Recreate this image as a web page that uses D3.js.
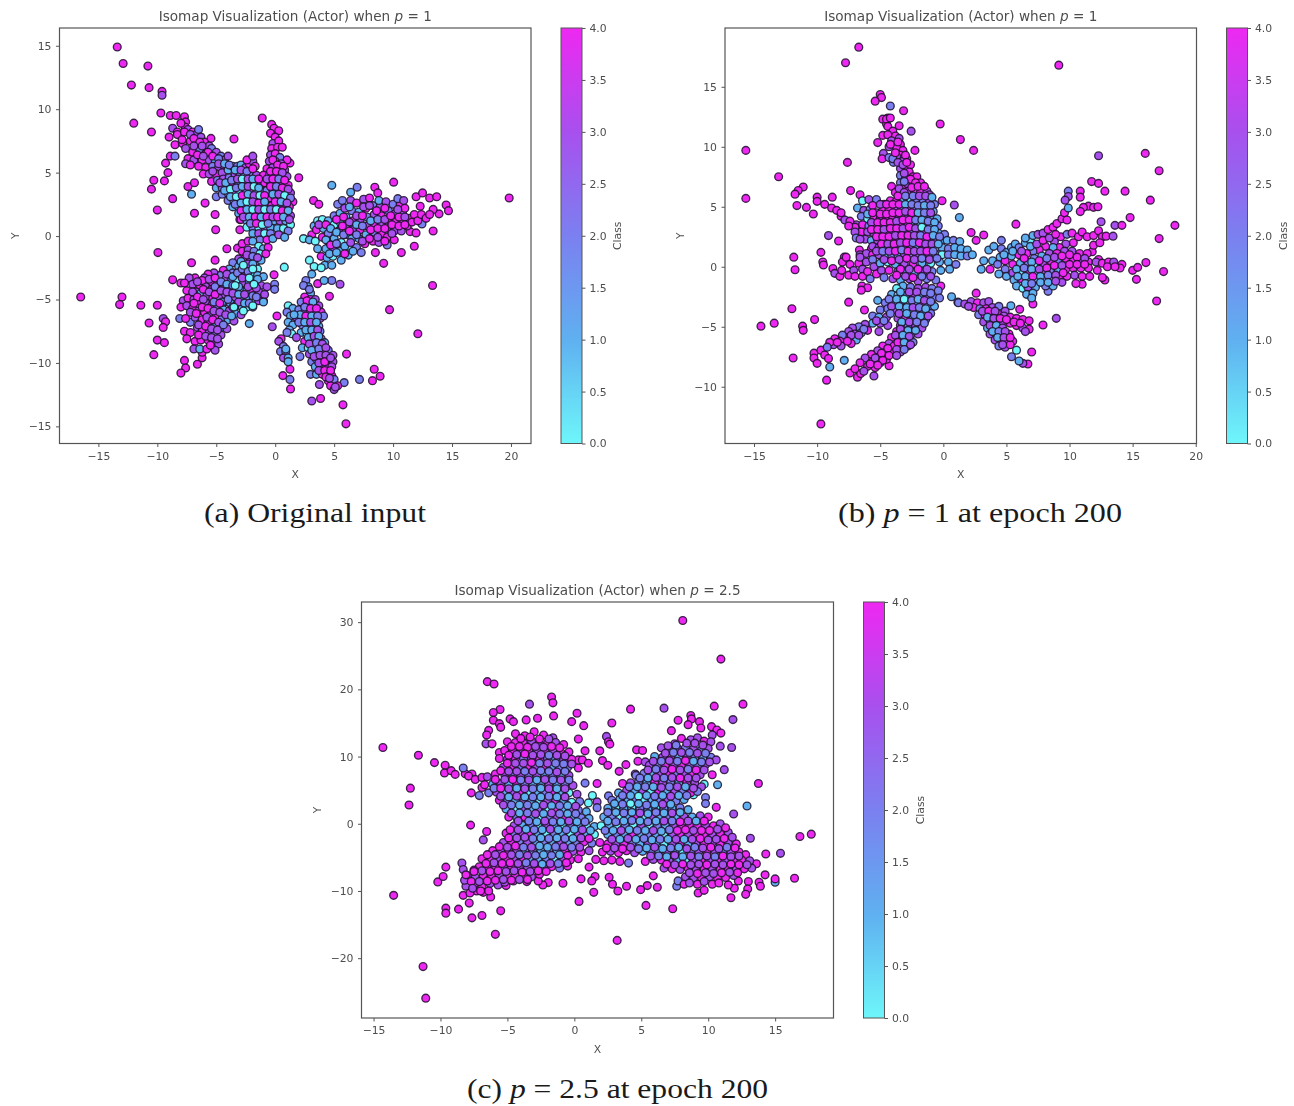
<!DOCTYPE html>
<html>
<head>
<meta charset="utf-8">
<script src="https://cdn.jsdelivr.net/npm/d3@7"></script>
<style>
body{margin:0;background:#fff}
text{font-family:"DejaVu Sans",sans-serif;fill:#4d4d4d}
.caption{font-family:"Liberation Serif",serif;fill:#1a1a1a}
.axis path,.axis line{stroke:#555}
</style>
</head>
<body>
<div id="chart"></div>
<script>
// every point is [x, y, class]
var aOut=[[-13.4,14.9,4],[-12.9,13.6,4],[-10.8,13.4,4],[-12.2,11.9,4],[-10.7,11.7,4],[-9.6,11.4,4],[-9.6,11.1,3],[-9.7,9.7,4],[-12,8.9,4],[-10.5,8.2,4],[-8.9,9.5,4],[-8.4,9.5,4],[-7.7,9.4,4],[-7.6,9,4],[-7.65,8.6,4],[-8.7,8.5,3],[-8.3,8.2,4],[-9,7.8,4],[-8.3,8,4],[-8.5,7.2,4],[-7.85,7.3,4],[-8.9,6.3,4],[-8.5,6.3,2],[-9.3,5.75,4],[-9.1,5,4],[-9.4,4.35,4],[-10.3,4.4,4],[-10.5,3.7,4],[-8.7,2.95,4],[-10,2.05,4],[-6.85,1.8,4],[-5.1,1.7,4],[-5.95,2.6,4],[-5.05,0.5,4],[-3,0.5,4],[-3,1.3,4],[-7.4,3.9,4],[-6.85,4.2,4],[-7.1,3.3,1],[-5,3.1,2],[-3.5,7.65,4],[-5.45,7.7,4],[-1.1,9.3,4],
[19.85,3,4],[10.05,4.25,4],[4.8,4,1],[6.95,3.85,2],[6.4,3.45,1],[8.45,3.85,4],[8.7,3.4,4],[3.25,2.8,4],[3.7,2.5,4],[2,4.6,4],[1.25,5.75,4],[11.95,3.1,4],[12.5,3.4,4],[13.1,3,4],[13.7,3.1,4],[14.5,2.45,4],[14.7,2,4],[13.9,1.75,4],[13.4,2.1,4],[13.4,0.4,4],[11.8,-0.8,4],[12.3,2.35,4],[12.45,0.95,2],[11.45,0.35,4],[11.95,0.25,4],
[13.35,-3.9,4],[9.7,-5.8,4],[12.1,-7.7,4],[6.05,-9.3,4],[8.4,-10.5,4],[8.9,-11.05,4],[8.25,-11.4,4],[7.15,-11.3,2],[5.85,-11.55,2],[6,-14.8,4],[5.75,-13.3,4],[3.85,-12.8,4],[3.1,-13,3],[3.75,-11.7,3],[1.3,-12.05,4],[0.65,-11,4],[1.25,-11.3,2],[1.25,-10.5,4],[0.15,-6.3,4],[-0.25,-7.15,3],[-0.1,-3.05,4],[0.77,-2.45,0],[4.6,-4.75,4],[5.5,-3.8,3],[4.8,-3.5,2],[9.2,-2.15,4],[8.5,-1.3,4],[10.7,-1.3,4],[2.9,-1.9,0],[3.3,-2.4,0],[3.1,-3,1],[2.6,-3.5,2],[3.6,-3.75,4],[4.15,-3.5,1],[2.4,-0.2,0],
[-16.5,-4.8,4],[-13,-4.8,4],[-13.2,-5.4,4],[-11.4,-5.45,4],[-10,-5.45,4],[-10.7,-6.85,4],[-9.5,-6.5,3],[-9.3,-6.75,4],[-9.5,-7.2,4],[-10,-8.2,4],[-9.4,-8.4,4],[-10.3,-9.35,4],[-7.7,-9.8,4],[-7.6,-10.4,4],[-8,-10.8,4],[-6.6,-10.1,4],[-6.2,-9.6,4],[-6.2,-9.15,4],[-9.95,-1.3,4],[-7.1,-2.1,4],[-5.1,-1.9,4],[-4.1,-1,4],[-3.2,-0.95,4],[-8.7,-3.45,4],[-8,-3.7,4],[-2.2,-6.9,1],[-0.05,-3.8,2],[-0.05,-4.2,2],[-1,-5.1,1],[-7.7,-7.5,4],[-7.2,-7.6,4],[-7.5,-8.1,4],[-7.2,-6.8,2],[-6.6,-7.2,3]];
var aNW=[[-8,8.9,4],[-7.4,8.4,3],[-7,8.2,4],[-6.7,8,3],[-6.5,8.4,2],[-6.3,7.8,3],[-7.9,7.6,4],[-7.2,7.5,4],[-6.6,7.2,3],[-6,7.4,4],[-5.6,7.1,3],[-7.6,6.9,3],[-7,6.6,4],[-6.4,6.8,2],[-5.9,6.5,4],[-5.4,6.9,2],[-5,6.6,3],[-7.4,6.1,4],[-6.9,6,3],[-6.2,6,4],[-5.6,6,3],[-5.1,6,1],[-4.6,6.3,2],[-4.3,6,3],[-4,6.3,3],[-7.6,5.7,3],[-7.2,5.6,4],[-6.5,5.5,4],[-5.9,5.4,4],[-5.3,5.5,2],[-4.8,5.4,3],[-4.3,5.5,4],[-6.1,4.9,4],[-5.6,4.9,3],[-5,4.9,4],[-4.5,5,3],[-4,5.2,1],[-3.6,5.5,1],[-3.2,5.5,2],[-2.9,5.6,1],[-2.5,5.4,3],[-2.2,5.7,4],[-1.9,5.9,3],[-1.7,5.5,4],[-2.4,6,4],[-1.9,6.3,3],[-5.4,4.3,4],[-4.9,4.4,2],[-4.4,4.5,3],[-3.9,4.6,2],[-3.4,4.8,3],[-3,4.8,2],[-2.6,4.8,1],[-2.1,4.9,2],[-1.6,4.8,3],[-5,3.8,1],[-4.5,3.8,3],[-4,4,2],[-3.6,4.1,4],[-3.1,4.2,1],[-2.6,4.2,4],[-2.1,4.2,2],[-1.7,4.1,1],[-1.2,4.1,3],[-4.5,3.3,2],[-4,3.4,1],[-3.5,3.4,3],[-3,3.5,0],[-2.5,3.6,2],[-2,3.6,4],[-1.6,3.5,0],[-1.1,3.5,2],[-4,2.8,2],[-3.5,2.8,1],[-3,2.9,3],[-2.6,3,1],[-2.1,3,4],[-1.6,2.9,2],[-1.2,2.9,1],[-0.7,3,3],[-3.6,2.3,1],[-3.1,2.3,0],[-2.6,2.4,3],[-2.1,2.4,0],[-1.6,2.3,4],[-1.1,2.4,1],[-0.6,2.4,3],[-3.1,1.8,1],[-2.6,1.8,2],[-2.1,1.8,4],[-1.6,1.8,0],[-1.1,1.8,3],[-0.6,1.8,1],[-2.9,1.3,4],[-2.4,1.2,1],[-1.9,1.2,3],[-1.4,1.2,2],[-0.9,1.2,4],[-0.4,1.3,1],[-2.4,0.7,0],[-1.9,0.7,2],[-1.4,0.7,0],[-0.9,0.7,3],[-0.4,0.7,1],[-1.9,0.2,1],[-1.4,0.2,3],[-0.9,0.2,0],[-0.4,0.2,2],[-1.3,-0.3,2],[-0.7,-0.3,4],[-0.2,-0.2,1]];
var aN=[[-0.3,8.8,4],[-0.1,8.5,4],[0.3,8.3,4],[-0.4,8.1,4],[0,7.8,4],[-0.2,7.3,3],[0.3,7.5,4],[-0.3,6.9,4],[0.2,7,4],[0.6,7,4],[-0.4,6.4,3],[0,6.5,4],[0.4,6.2,2],[1,6,4],[-0.5,5.9,3],[0,5.9,4],[0.5,5.7,3],[-0.7,5.3,4],[-0.2,5.4,3],[0.3,5.3,4],[0.8,5.2,3],[-1,4.8,4],[-0.5,4.8,3],[0,4.8,4],[0.5,4.7,2],[1,4.7,3],[-0.9,4.2,4],[-0.4,4.2,3],[0.1,4.2,4],[0.6,4.2,3],[1.1,4,4],[-0.7,3.6,2],[-0.2,3.6,4],[0.3,3.6,1],[0.8,3.5,2],[1.3,3.4,3],[-0.5,3,4],[0,3,0],[0.5,3,1],[1,2.9,1],[1.5,2.7,4],[-0.3,2.4,4],[0.2,2.4,1],[0.7,2.3,3],[1.2,2.3,4],[-0.1,1.8,2],[0.4,1.8,0],[0.9,1.7,2],[1.3,1.6,3],[-0.1,1.2,1],[0.4,1.2,3],[0.9,1.2,1],[1.3,0.9,0],[0.2,0.6,1],[0.7,0.6,0],[1.1,0.4,2],[0.3,0.1,3],[0.8,-0.1,1]];
var aE=[[3.3,0.8,1],[3.1,0.1,4],[2.9,-0.3,1],[3.6,1.2,0],[4,1.3,0],[3.5,0.5,4],[3.4,-0.4,0],[3.6,-1,1],[3.9,-1.6,4],[4,-0.1,4],[4.1,0.6,1],[4.5,1.2,1],[5,1.6,2],[5,0.9,0],[4.5,0.2,2],[4.5,-0.4,3],[4.3,-1,1],[4.4,-1.7,1],[4.2,-2.3,1],[3.9,-2.5,0],[4.8,-2.3,1],[4.9,-1.6,0],[4.9,-0.9,3],[5,-0.2,1],[5.4,0.4,3],[5.5,1.1,0],[5.5,1.8,1],[5.3,2.5,2],[5.7,2.8,2],[5.9,2.2,3],[6,1.5,1],[6,0.8,3],[6,0.1,1],[5.6,-0.5,0],[5.5,-1.2,1],[5.6,-1.9,1],[6.2,-1.5,1],[6.2,-0.8,0],[6.5,-0.2,1],[6.6,0.5,3],[6.6,1.2,4],[6.5,2,2],[6.4,2.8,3],[6.9,2.6,4],[7.1,1.9,1],[7.2,1.2,3],[7.2,0.5,4],[7.1,-0.2,1],[6.9,-0.9,2],[7.3,-1.3,2],[7.6,-0.6,4],[7.7,0.1,1],[7.8,0.8,3],[7.8,1.5,2],[7.7,2.2,4],[7.5,2.9,3],[8,3,4],[8.3,2.4,2],[8.4,1.7,3],[8.4,1,4],[8.4,0.3,2],[8.3,-0.4,4],[8.8,-0.5,3],[9,0.2,4],[9,0.9,3],[9,1.6,4],[8.9,2.3,3],[8.8,2.8,1],[9.4,2.7,3],[9.6,2,2],[9.6,1.3,4],[9.6,0.6,3],[9.5,-0.1,4],[9.5,-0.7,2],[10.1,-0.3,4],[10.1,0.4,3],[10.2,1.1,4],[10.2,1.8,3],[10,2.5,2],[10.6,2.5,4],[10.8,1.8,3],[10.8,1.1,4],[10.7,0.4,3],[11.2,0.8,4],[11.4,1.4,4],[11,2.2,4],[11.6,1.1,4],[11.8,1.7,4],[12.1,1.2,4],[12.4,1.7,4],[12.8,1.4,4],[13.1,1.7,4],[10.4,2.95,2],[10.9,2.8,3]];
var aSW=[[-2.8,-0.6,4],[-2.3,-0.4,4],[-1.9,-0.4,1],[-1.4,-0.8,0],[-1,-1,1],[-0.6,-0.9,4],[-2.8,-1.2,4],[-2.3,-1.1,3],[-1.8,-1.2,2],[-1.3,-1.4,0],[-0.8,-1.4,4],[-3.1,-1.8,3],[-2.6,-1.8,4],[-2.1,-1.9,3],[-1.6,-2,1],[-1.2,-1.9,1],[-3.6,-2.1,2],[-3.1,-2.4,1],[-2.6,-2.4,3],[-2.1,-2.5,1],[-1.5,-2.6,0],[-3.9,-2.6,1],[-3.6,-2.9,2],[-3,-3,1],[-2.5,-3,3],[-2,-3.1,0],[-1.5,-3.1,1],[-1,-3.2,1],[-4.4,-2.7,4],[-4.7,-3.1,2],[-4.2,-3.4,3],[-3.7,-3.5,2],[-3.2,-3.5,0],[-2.7,-3.7,3],[-2.2,-3.7,1],[-1.7,-3.7,0],[-1.2,-3.9,3],[-0.7,-4,3],[-5.2,-2.9,3],[-5.7,-3,4],[-6,-3.3,3],[-5.4,-3.6,4],[-4.9,-3.7,3],[-4.4,-4,3],[-3.9,-4.1,3],[-3.4,-4.1,2],[-2.9,-4.3,1],[-2.4,-4.3,0],[-1.9,-4.4,4],[-1.4,-4.4,3],[-0.9,-4.6,3],[-6.8,-3.3,4],[-7.3,-3.3,3],[-7.7,-3.7,4],[-7,-3.8,3],[-6.4,-3.9,4],[-5.9,-4,3],[-5.4,-4.2,4],[-4.9,-4.3,3],[-4.4,-4.6,3],[-3.9,-4.7,2],[-3.4,-4.8,3],[-2.9,-4.9,1],[-2.4,-5,1],[-1.9,-5.1,0],[-1.4,-5.1,3],[-1,-5.2,1],[-6.7,-4.4,3],[-6.3,-4.5,1],[-5.8,-4.7,3],[-5.3,-4.9,4],[-4.8,-4.9,3],[-4.3,-5.2,3],[-3.8,-5.3,1],[-3.3,-5.5,3],[-2.8,-5.6,1],[-2.4,-5.6,0],[-1.9,-5.6,1],[-7.8,-5.1,3],[-7.4,-4.9,4],[-6.9,-5,3],[-6.4,-5.1,4],[-5.9,-5.3,3],[-5.4,-5.5,4],[-4.9,-5.6,2],[-4.4,-5.8,1],[-3.9,-5.9,3],[-3.4,-6.1,1],[-2.9,-6.2,3],[-8,-5.6,4],[-7.5,-5.5,3],[-7,-5.7,4],[-6.5,-5.9,3],[-6,-6,4],[-5.5,-6.2,3],[-5,-6.3,4],[-4.5,-6.5,2],[-4,-6.6,1],[-3.5,-6.7,3],[-8.1,-6.5,2],[-7.6,-6.5,4],[-6.8,-6.4,3],[-6.2,-6.6,4],[-5.7,-6.8,4],[-5.1,-7,1],[-4.6,-7.2,1],[-4.1,-7.3,3],[-6.2,-7.5,4],[-5.6,-7.6,3],[-5.1,-7.7,2],[-4.6,-7.8,3],[-6.8,-8.3,4],[-6.3,-8.2,4],[-5.7,-8.2,4],[-5.2,-8.3,3],[-4.8,-8.5,3],[-6.9,-8.9,3],[-6.4,-8.9,1],[-5.8,-8.9,4],[-5.1,-9,3]];
var aS=[[2.8,-4,1],[2.4,-3.9,2],[3,-4.5,1],[2.5,-4.8,4],[3,-5,4],[3.4,-5,3],[2.2,-5.2,2],[2.7,-5.5,4],[3.2,-5.5,4],[3.7,-5.5,3],[1.1,-5.5,0],[1.5,-5.7,1],[2,-5.8,2],[2.5,-6,3],[3,-6,2],[3.5,-6,1],[3.9,-6,4],[1,-6,2],[1.3,-6.3,1],[1.8,-6.4,3],[2.3,-6.5,2],[2.8,-6.5,3],[3.3,-6.6,1],[3.8,-6.5,3],[4.1,-6.3,2],[1.1,-6.8,1],[1.5,-7,1],[2.3,-7,2],[2.8,-7.1,1],[3.2,-7.1,2],[3.7,-7.1,1],[1.2,-7.4,1],[1.4,-7.7,0],[1,-7.6,2],[2.2,-7.6,1],[2.7,-7.7,0],[3.3,-7.6,1],[3.8,-7.5,2],[1.8,-8,3],[2.5,-8.3,4],[3,-8.2,1],[3.4,-8.1,0],[3.9,-8.1,2],[2.3,-8.8,1],[2.8,-8.8,0],[3.3,-8.7,2],[3.8,-8.7,3],[4.2,-8.4,1],[2.9,-9.3,3],[3.5,-9.2,2],[4,-9.1,3],[4.5,-9,2],[4.9,-9.4,3],[2.1,-9.5,2],[3.1,-9.9,2],[3.5,-9.7,1],[4,-9.6,1],[4.5,-9.7,2],[4.9,-9.9,3],[3.4,-10.3,1],[3.9,-10.3,4],[4.3,-10.2,3],[4.8,-10.3,3],[3,-10.9,2],[3.5,-10.9,1],[4,-10.9,4],[4.5,-10.8,3],[4.8,-11,4],[4.5,-11.4,4],[5,-11.3,2],[5.3,-11.8,4],[4.7,-11.8,4],[5,-12.1,3],[5.1,-11.9,3],[0.5,-8.1,4],[0.3,-8.3,3],[0.7,-8.7,2],[0.45,-9.1,2],[0.9,-9.1,2],[0.7,-9.6,3],[1.1,-9.6,1],[1.1,-9.9,1],[0.9,-8.9,1]];
// second pass over the crowded parts of panel a
var aFillNW=[[-7.7,8.2,4],[-7.2,8,3],[-6.9,7.7,4],[-6.4,7.4,4],[-6.9,7.1,3],[-6.2,7.1,3],[-5.7,6.6,4],[-6.6,6.4,4],[-6.1,6.3,3],[-5.3,6.3,4],[-4.8,6.1,2],[-5.3,5.1,3],[-4.8,5.7,3],[-4.3,5.7,1],[-3.9,5.6,2],[-3.4,5.2,1],[-2.9,5.2,3],[-2.4,5.1,2],[-1.9,5.3,4],[-4.7,4.2,3],[-4.2,4.2,1],[-3.7,4.4,2],[-3.2,4.5,3],[-2.8,4.5,0],[-2.3,4.5,3],[-1.9,4.5,1],[-1.4,4.5,4],[-4.3,3.6,1],[-3.8,3.7,0],[-3.3,3.8,2],[-2.8,3.9,1],[-2.3,3.9,3],[-1.8,3.9,0],[-1.4,3.8,1],[-3.8,3.1,1],[-3.3,3.1,0],[-2.8,3.2,4],[-2.3,3.3,1],[-1.8,3.2,3],[-1.3,3.2,0],[-0.9,3.2,4],[-3.4,2.5,2],[-2.9,2.6,1],[-2.4,2.7,0],[-1.9,2.7,3],[-1.4,2.6,4],[-0.9,2.7,1],[-2.9,2,4],[-2.4,2.1,1],[-1.9,2.1,0],[-1.4,2.1,3],[-0.9,2.1,0],[-0.4,2.1,2],[-2.7,1.5,3],[-2.2,1.5,1],[-1.7,1.5,4],[-1.2,1.5,1],[-0.7,1.5,4],[-0.2,1.5,3],[-2.1,1,2],[-1.6,1,4],[-1.1,0.9,0],[-0.6,1,2]];
var aFillN=[[-0.2,6,4],[0.2,5.6,4],[0.7,5.5,4],[-0.4,5.1,4],[0.1,5.1,4],[0.6,5,3],[-0.7,4.5,3],[-0.2,4.5,4],[0.3,4.5,2],[0.8,4.4,4],[-0.4,3.9,4],[0.1,3.9,2],[0.6,3.8,4],[1.1,3.7,3],[-0.2,3.3,1],[0.3,3.3,3],[0.8,3.2,0],[1.3,3,2],[0,2.7,4],[0.5,2.7,1],[1,2.6,3],[0.1,2.1,0],[0.6,2,4],[1.1,2,1],[0.2,1.5,4],[0.7,1.5,1],[1.2,1.3,3]];
var aFillE=[[3.7,0.9,3],[4.3,0.9,4],[4.3,-0.3,1],[4.7,0.6,1],[4.7,-0.7,4],[4.6,-1.4,1],[5.2,1.3,4],[5.2,0.3,1],[5.2,-0.6,2],[5.2,-1.3,1],[5.7,0.8,4],[5.8,0.1,2],[5.8,1.5,4],[5.9,-0.8,1],[5.9,-1.4,4],[6.3,2.3,1],[6.3,1.1,3],[6.3,0.4,4],[6.4,-0.5,3],[6.6,-1.2,1],[6.9,1.6,3],[6.9,0.9,1],[6.9,0.1,2],[7.4,1.6,4],[7.4,0.8,2],[7.4,-0.4,3],[7.5,2.3,3],[8,2.4,3],[8.1,1.2,1],[8.1,0.5,4],[8,-0.2,4],[8.6,2,4],[8.7,1.3,2],[8.7,0.6,4],[8.7,-0.1,3],[9.3,2.2,4],[9.3,1.3,3],[9.3,0.6,4],[9.3,-0.4,4],[9.8,1.6,4],[9.9,0.9,4],[9.9,0.2,3],[10.5,1.5,4],[10.5,0.8,4],[10.4,2.1,3],[11,1.5,3],[11,0.9,4]];
var aFillSW=[[-7.5,-4.3,4],[-7,-4.4,3],[-6.2,-3.5,4],[-6.1,-4.2,4],[-5.6,-3.4,3],[-5.6,-4.4,3],[-5.1,-3.3,4],[-5.1,-4,2],[-5.1,-4.6,4],[-4.6,-3.6,2],[-4.6,-4.3,3],[-4.5,-5.2,1],[-4.1,-3,3],[-4.1,-3.8,1],[-4.1,-4.4,3],[-4,-5,2],[-3.6,-3.2,1],[-3.6,-3.9,2],[-3.6,-4.5,3],[-3.6,-5.6,3],[-3.2,-2.9,2],[-3.1,-4,1],[-3.1,-4.6,1],[-3.1,-5.2,3],[-2.9,-2,1],[-2.8,-2.6,2],[-2.8,-3.3,3],[-2.6,-4.6,3],[-2.6,-5.3,1],[-2.4,-1.5,3],[-2.3,-2.2,3],[-2.3,-2.8,2],[-2.3,-4,3],[-2.2,-5.3,2],[-1.9,-1.6,2],[-1.9,-2.2,1],[-1.9,-4.7,2],[-1.5,-1.7,3],[-1.5,-3.4,1],[-1.6,-4.1,3],[-1.6,-4.8,2],[-6.6,-3.6,3],[-6.6,-4.8,4],[-6.1,-5,3],[-6.2,-5.6,4],[-5.7,-5.7,4],[-5.2,-5.2,2],[-5.2,-5.9,3],[-4.7,-5.3,4],[-4.7,-6,3],[-4.2,-6.2,3],[-3.7,-6.3,1],[-6.9,-5.3,4],[-7.2,-6,3],[-6.7,-6.1,4],[-5.8,-6.4,3],[-5.3,-6.6,4],[-4.8,-6.8,3],[-4.4,-7,2],[-6.5,-7,3],[-5.9,-7.1,4],[-5.4,-7.3,3],[-4.9,-7.4,3],[-6.5,-7.8,4],[-5.9,-7.9,3],[-5.4,-8,3],[-4.9,-8.1,3],[-5.5,-8.6,4],[-1.9,-2.6,0],[-2.2,-3.3,0],[-1.8,-3.8,0],[-3.4,-3.9,0],[-1.9,-5.5,0],[-3.5,-5.6,0],[-2.7,-5.9,0],[-2.7,-2.3,0]];
var aFillS=[[2.9,-4.2,2],[2.7,-5.1,4],[3.2,-5.2,1],[2.5,-5.6,2],[3,-5.7,4],[3.5,-5.7,4],[2.1,-6.2,1],[2.6,-6.3,4],[3.1,-6.3,1],[3.6,-6.3,2],[1.6,-6.2,1],[2,-6.8,2],[2.5,-6.8,1],[3,-6.8,3],[3.5,-6.8,1],[2.6,-7.4,1],[3.1,-7.4,1],[3.6,-7.4,3],[2.8,-8,1],[3.3,-7.9,3],[3.7,-7.9,1],[2.9,-8.5,3],[3.5,-8.4,2],[4,-8.5,3],[3.1,-9,1],[3.7,-8.9,2],[4.3,-8.8,3],[3.3,-9.5,3],[3.8,-9.4,3],[4.3,-9.4,3],[3.7,-10,3],[4.2,-9.9,4],[4.7,-9.6,3],[3.7,-10.6,3],[4.2,-10.6,4],[4.7,-10.6,4],[4.3,-11.1,4],[4.6,-11.2,3]];

var bOut=[[-6.7,18.3,4],[-7.75,17,4],[-15.65,9.7,4],[-15.65,5.7,4],[-13.05,7.5,4],[-11.1,6.65,4],[-11.5,6.35,4],[-11.75,6.05,4],[-11.6,5.1,4],[-10.85,4.95,4],[-10.3,4.4,4],[-10,5.8,4],[-10,5.45,4],[-9.4,5.2,4],[-8.8,5.8,4],[-8.85,4.9,4],[-8.45,4.7,4],[-7.6,8.7,4],[-7.35,6.35,4],[-6.6,6,4],[-0.25,11.9,4],[1.35,10.6,4],[2.4,9.7,4],[9.15,16.8,4],[12.3,9.25,3],[16,9.45,4],[17.1,8,4],[11.75,7.1,4],[12.3,6.95,4],[12.8,6.3,4],[14.4,6.3,4],[16.4,5.55,4],[14.8,4.1,4],[18.35,3.45,4],[17.1,2.35,4],[13.6,3.45,3],[14.15,3.45,4],[12.5,3.75,3],[10.85,6.3,4],[10.85,5.8,4],[9.9,6.3,2],[9.9,5.85,3],[9.65,5.55,3],[11.5,5.05,4],[11.1,4.95,4],[10.85,4.6,4],[11.9,4.95,4],[12.25,5,4],[5.75,3.55,4],[2.2,2.85,4],[3.2,2.65,4],[2.6,2.2,4],[4.6,2.2,2],[1.27,4.1,1],[0.87,5.15,3],[-0.1,5.5,4],[-2.55,11.3,3],[-3.15,13,4],[-4.2,13.4,2],[-5,14.35,4],[-4.9,14.1,4],[-5.4,13.8,4],[-4.4,12.4,4],[-4.8,12.3,4],[-3.5,11.75,4],[-4.5,11.9,4],[-4.8,10.95,4],[-5.2,10.35,4],[-2.25,9.7,4],[-4.75,9.45,3],[-4.85,9,4],[-4.3,9.1,2],[-3.95,8.7,2],[-9.1,2.6,3],[-8.3,2.15,4],[-9.7,1.2,4],[-11.85,0.8,4],[-7.85,0.8,4],[-6.65,1.4,4],[-5.7,1.5,4],[-11.75,-0.25,4],[-9.55,0.4,4],[-9.5,0.15,4],[-12,-3.5,4],[-10.2,-4.4,4],[-11.15,-4.95,4],[-11.1,-5.3,4],[-13.4,-4.7,4],[-14.45,-4.95,4],[-11.9,-7.6,4],[-10.25,-7.2,4],[-10.25,-7.6,4],[-10,-8.05,4],[-9.7,-6.95,4],[-9.4,-7.35,4],[-9.1,-7.65,4],[-9,-8.35,1],[-9.25,-9.45,4],[-9.7,-13.1,4],[-7.85,-7.8,1],[-7.5,-2.95,4],[-6.45,-1.6,4],[-6,-1.75,4],[-6.5,-1.95,4],[-6.25,-3.6,4],[-5.5,-9.1,3],[-7.4,-8.85,4],[-6.8,-9.2,4],[-6.55,-8.9,4],[-4.3,-8.25,4],[-5.2,-2.8,1],[-0.2,-1.6,4],[0.65,-2.5,1],[1.15,-2.95,2],[2.6,-2.2,4],[7.1,-3.1,4],[6.05,-3.55,4],[5.35,-3.25,1],[7.9,-4.85,4],[8.95,-4.3,3],[7,-7.1,4],[6.7,-8.1,4],[6.3,-8.05,3],[6,-7.85,1],[5.4,-7.5,2],[5.8,-6.95,0],[16.9,-2.85,4],[17.45,-0.4,4],[15.3,-1.05,4],[15,-0.3,4],[15.4,-0.05,4],[16.05,0.35,4],[14.15,0.2,4],[14,-0.1,4],[12.8,-1.1,4],[11,-1.45,4],[8.3,-2.05,2],[12.3,0.6,4],[11.8,1.25,4]];
var bNeck=[[-4.5,12.3,4],[-4.2,12.4,4],[-4.4,11.7,4],[-4,11.3,4],[-3.8,10.9,4],[-4.4,11,4],[-3.5,10.7,3],[-4.1,10.5,3],[-3.4,10.2,4],[-3.7,9.9,4],[-4.3,10,3],[-3.2,9.7,4],[-3.4,9.3,4],[-3.7,9.2,3],[-4,9,2],[-2.9,9,3],[-3.2,8.8,3],[-3,8.3,4],[-2.6,8.5,4],[-3.4,8.2,3],[-2.7,7.9,4],[-3.4,7.6,2],[-3,7.4,3],[-2.4,7.5,4],[-2.1,7.5,4],[-3.4,7,2],[-2.9,6.9,3],[-2.4,6.9,3],[-1.8,7,4],[-4.1,6.7,4],[-3.8,6.2,4],[-3.3,6.5,4],[-2.8,6.3,3],[-2.3,6.3,4],[-1.8,6.3,4],[-1.3,6.3,3],[-1.1,6,3]];
var bMass=[[-6.4,5.5,0],[-5.9,5.6,3],[-5.3,5.6,2],[-4.7,5.2,4],[-4.2,5.5,4],[-3.7,5.5,4],[-3.2,5.5,1],[-2.6,5.5,0],[-2.1,5.4,2],[-1.6,5.5,2],[-1.1,5.5,3],[-0.7,5.2,2],[-6.8,4.9,1],[-6.3,4.7,3],[-5.8,4.8,2],[-5.3,4.5,3],[-4.8,4.7,4],[-4.3,4.8,4],[-3.8,4.8,3],[-3.3,4.9,2],[-2.8,4.9,4],[-2.3,4.8,2],[-1.8,4.8,1],[-1.3,4.8,2],[-0.8,4.6,1],[-6.5,4.2,2],[-6,4,0],[-5.5,4,4],[-5,4,3],[-4.5,4,4],[-4,4.1,4],[-3.5,4.1,3],[-3,4.2,2],[-2.5,4.2,2],[-2,4.2,4],[-1.5,4.2,1],[-1,4.1,1],[-0.5,4,1],[-6.9,3.5,3],[-6.4,3.5,4],[-5.9,3.4,2],[-5.4,3.4,4],[-4.9,3.4,4],[-4.4,3.4,3],[-3.9,3.5,4],[-3.4,3.6,4],[-2.9,3.6,3],[-2.4,3.6,1],[-2,3.5,0],[-1.5,3.6,2],[-1,3.4,1],[-0.4,3.4,2],[-6.5,2.9,4],[-6,2.9,3],[-5.5,2.8,3],[-5,2.8,4],[-4.5,2.8,4],[-4,2.9,3],[-3.5,2.9,4],[-3,2.9,3],[-2.5,2.9,2],[-2,2.9,4],[-1.5,3,3],[-1,2.8,0],[-0.4,2.8,1],[0.1,2.7,2],[-6.2,2.3,3],[-5.7,2.2,1],[-5.2,2.2,3],[-4.7,2.1,4],[-4.2,2.2,3],[-3.7,2.3,4],[-3.2,2.3,4],[-2.7,2.3,3],[-2.2,2.3,4],[-1.7,2.2,4],[-1.2,2.2,1],[-0.7,2.3,3],[-0.2,2.1,1],[0.3,2.2,1],[0.8,2.2,2],[1.3,2.1,1],[-5.6,1.7,3],[-5.1,1.6,3],[-4.6,1.6,1],[-4.1,1.6,2],[-3.6,1.7,3],[-3.1,1.7,4],[-2.6,1.6,3],[-2.1,1.7,1],[-1.6,1.6,4],[-1.1,1.6,2],[-0.6,1.6,0],[-0.1,1.6,1],[0.4,1.5,2],[0.9,1.6,1],[1.4,1.5,1],[1.9,1.4,1],[-6.6,1,3],[-6.1,1.1,3],[-5.6,1,4],[-5.1,1,3],[-4.6,1,0],[-4.1,1,2],[-3.6,1,1],[-3.1,1.1,3],[-2.6,1,2],[-2.1,1,3],[-1.6,1,1],[-1.1,1,3],[-0.6,1,1],[-0.1,1,0],[0.4,1,2],[0.9,1,1],[1.4,0.9,1],[1.9,0.9,2],[2.3,1,1],[-8.1,4.2,4],[-7.8,3.9,3],[-7.4,3.8,4],[-7,3.3,4],[-7.5,3.4,4],[-7,2.9,3],[-8.1,4.5,4],[-6.9,2.4,2],[-6.6,2.3,3]];
var bWest=[[-8.75,-0.15,4],[-8.6,-0.55,3],[-8.2,-0.8,4],[-8,0.4,4],[-8.05,-0.3,4],[-7.5,-0.7,4],[-7.7,0.8,4],[-7.4,0.2,4],[-7.1,-0.3,3],[-7,-0.8,4],[-6.7,0.3,4],[-6.6,0.8,3],[-6.4,-0.2,3],[-6.4,-0.8,4],[-6.1,0.4,3],[-6,-0.4,4],[-5.8,-1,2],[-5.6,0.6,2],[-5.5,0,3],[-5.3,-0.6,4],[-5,0.3,1],[-4.9,-0.3,3],[-4.7,-0.9,2],[-4.4,0.4,0],[-4.3,-0.3,4],[-4,-1,3],[-3.8,0.2,1],[-3.6,-0.4,3],[-3.4,-1.1,1],[-3.1,0.3,3],[-3,-0.4,1],[-2.7,-1,3],[-2.4,0.2,4],[-2.3,-0.5,1],[-2,-1.2,3],[-1.7,0.3,1],[-1.6,-0.4,3],[-1.3,-1,2],[-1,0.3,0],[-0.9,-0.4,2],[-0.6,-1.1,2],[-0.3,0.4,1],[-0.2,-0.3,1],[0.4,0.4,1],[0.5,-0.2,1],[1,0.2,2]];
var bSouth=[[-3.2,-1.6,1],[-3.7,-1.8,0],[-2.6,-1.7,2],[-2,-1.8,3],[-1.4,-1.7,3],[-0.9,-1.8,2],[-0.4,-2,2],[-4.1,-2.3,1],[-3.6,-2.4,0],[-3,-2.4,1],[-2.4,-2.4,3],[-1.8,-2.4,1],[-1.3,-2.6,2],[-0.8,-2.6,2],[-0.3,-2.6,2],[-4.6,-3,2],[-4,-3,0],[-3.4,-3,2],[-2.8,-3.1,1],[-2.2,-3,1],[-1.7,-3.1,3],[-1.2,-3.3,2],[-0.7,-3.3,1],[-5,-3.6,2],[-4.4,-3.5,2],[-3.8,-3.6,3],[-3.2,-3.6,1],[-2.6,-3.7,0],[-2.1,-3.7,1],[-1.6,-3.8,2],[-1,-3.9,2],[-5.6,-4.1,2],[-5.1,-4.2,1],[-4.5,-4.2,3],[-3.6,-4.3,3],[-3,-4.3,4],[-2.4,-4.3,1],[-1.9,-4.4,3],[-1.4,-4.4,2],[-5.6,-4.7,1],[-5,-4.7,3],[-4.4,-4.9,3],[-6.2,-4.8,3],[-6.7,-5,2],[-7.2,-5.1,3],[-6,-5.3,4],[-6.5,-5.5,1],[-7,-5.6,3],[-7.5,-5.4,3],[-7.6,-5.9,4],[-8,-5.7,2],[-8.2,-6.2,4],[-8.6,-6,4],[-8.1,-6.6,3],[-8.7,-6.5,3],[-9,-6.3,4],[-9.2,-6.7,2],[-6.9,-6.1,1],[-7.3,-6.4,4],[-5.1,-5.4,3],[-3.4,-4.9,4],[-2.8,-5,2],[-2.2,-4.9,3],[-1.7,-5.1,3],[-3.7,-5.4,4],[-3.1,-5.4,1],[-2.5,-5.6,1],[-2,-5.6,3],[-4.1,-5.9,4],[-3.5,-6,3],[-2.9,-6,1],[-2.4,-6.3,2],[-4.3,-6.4,3],[-3.9,-6.6,4],[-3.3,-6.6,3],[-2.8,-6.6,2],[-4.8,-6.6,4],[-5.2,-7,3],[-4.6,-7.1,3],[-4,-7.2,4],[-3.4,-7.1,3],[-5.7,-7.3,4],[-5.1,-7.5,4],[-4.5,-7.7,4],[-6.2,-7.6,3],[-5.6,-7.9,4],[-5,-8,3],[-6.6,-8,4],[-6,-8.3,4],[-5.4,-8.4,4],[-7,-8.5,4],[-6.3,-8.7,3]];
var bEast=[[3.6,1.4,1],[4,1.7,1],[4.6,1.5,2],[5,1.2,1],[5.4,1.6,1],[5.7,1.9,1],[6,1.6,2],[6.5,2,1],[6.9,2.2,0],[6.5,2.4,1],[7.1,2.6,1],[7.5,2.7,3],[7.9,2.8,3],[8.3,3.1,4],[8.7,3.3,4],[9,3.6,4],[9.4,4,4],[9.6,4.5,4],[9.8,3.9,4],[9.9,4.9,1],[8.8,2.1,3],[9.3,2.5,4],[9.8,2.7,2],[10.2,2.8,4],[10.7,2.5,4],[11,2.9,4],[11.4,2.5,4],[11.9,2.6,4],[12.3,3,4],[12.6,2.5,4],[12.9,2.55,4],[13.45,2.55,3],[11.9,1.8,4],[12.4,2,4],[10.3,2,4],[9.7,1.9,3],[9.2,1.6,4],[8.7,1.6,1],[8.1,1.7,4],[7.6,1.4,4],[7.1,1.3,2],[3.2,0.5,1],[3.9,0.5,1],[4.5,0.8,1],[3,-0.2,1],[3.7,-0.2,4],[4.3,0.2,2],[4.9,0.5,4],[5.4,0.9,1],[6,1,4],[6.6,1.1,4],[7.2,0.7,2],[7.8,0.9,1],[8.4,1.1,3],[9,1.1,4],[9.6,1.3,3],[10.2,1.3,3],[10.8,1.1,4],[11.4,1.1,4],[4.9,-0.2,2],[5.5,0.2,4],[6.1,0.3,1],[6.7,0.4,2],[7.3,0.1,0],[7.9,0.3,3],[8.5,0.5,4],[9.1,0.4,2],[9.7,0.7,4],[10.3,0.5,4],[10.9,0.5,3],[11.5,0.4,4],[12.1,0.4,3],[12.6,0.3,4],[13.1,0.4,4],[13.5,0.4,3],[4.4,-0.6,1],[5,-0.8,1],[5.5,-0.5,3],[6.1,-0.4,0],[6.7,-0.5,4],[7.3,-0.6,1],[7.9,-0.4,3],[8.5,-0.3,2],[9.1,-0.3,1],[9.7,-0.2,4],[10.3,-0.1,4],[10.9,-0.1,4],[11.5,-0.1,4],[12.2,-0.3,4],[13,0,4],[13.6,0,4],[5.6,-1.1,1],[6.2,-1,4],[6.8,-1.1,1],[7.4,-1,1],[8,-1,2],[8.6,-1.1,1],[9.2,-0.9,4],[9.8,-0.8,4],[10.4,-0.7,3],[11,-0.8,4],[11.6,-0.8,4],[12.6,-0.9,4],[5.8,-1.6,1],[6.3,-1.8,0],[6.7,-1.7,3],[7.3,-1.7,1],[8.1,-1.6,2],[8.7,-1.6,1],[9.4,-1.3,3],[10.5,-1.4,4],[6.6,-2.3,1],[7.1,-2.2,1],[7,-2.6,1]];
var bSE=[[1.2,-3,2],[1.7,-3.1,3],[2.2,-2.9,3],[2.7,-3,4],[3.2,-3,3],[3.6,-2.9,3],[2.4,-3.4,4],[2.9,-3.5,2],[3.4,-3.5,4],[3.9,-3.4,3],[4.4,-3.3,2],[4.9,-3.7,3],[2.8,-4,2],[3.3,-4,4],[3.8,-4,3],[4.3,-3.9,4],[4.8,-4.1,3],[5.3,-4.2,4],[5.8,-4.3,4],[6.3,-4.4,4],[6.8,-4.5,4],[3.2,-4.6,3],[3.7,-4.5,1],[4.2,-4.6,4],[4.7,-4.7,3],[5.3,-4.7,4],[5.8,-4.9,4],[6.3,-5.1,3],[6.8,-5.2,4],[6.5,-5.4,3],[3.5,-5.1,1],[4,-5.1,1],[4.5,-5.2,1],[3.7,-5.6,3],[4.2,-5.6,0],[4.7,-5.6,1],[5.2,-5.6,4],[4.1,-6.1,3],[4.6,-6.2,4],[5.1,-6.1,4],[5.5,-6.2,4],[4.4,-6.6,2],[4.9,-6.7,3],[5.3,-6.5,4]];
var bFillTop=[[-4.2,10.2,4],[-3.6,10.4,4],[-3.8,9.5,4],[-3,9.3,4],[-3.6,8.7,3],[-3.2,8.5,3],[-2.9,8.7,4],[-3.1,7.8,3],[-2.6,7.3,4],[-3.1,7.1,2],[-2.2,7,4],[-3.5,6.5,3],[-3.1,6.2,3],[-2.5,6.6,4],[-2,6.7,4],[-1.5,6.7,4],[-3.6,5.9,4],[-3,5.9,2],[-2.4,5.9,2],[-1.9,5.9,3],[-1.4,5.9,3],[-0.9,5.8,1],[-5.6,5.1,4],[-5,5.2,3],[-4.5,5.2,4],[-4,5.2,4],[-3.5,5.2,4],[-3,5.2,1],[-2.5,5.2,2],[-2,5.1,2],[-1.5,5.1,1],[-1,5.1,2],[-6,4.4,1],[-5.6,4.5,4],[-5,4.4,4],[-4.5,4.4,4],[-4,4.5,4],[-3.5,4.5,4],[-3,4.6,3],[-2.5,4.5,4],[-2,4.5,1],[-1.5,4.5,2],[-1,4.5,3],[-5.7,3.7,3],[-5.2,3.7,4],[-4.7,3.7,4],[-4.2,3.7,4],[-3.7,3.8,3],[-3.2,3.9,4],[-2.7,3.9,4],[-2.2,3.9,2],[-1.7,3.9,1],[-1.2,3.8,2],[-0.7,3.7,1],[-5.7,3.1,4],[-5.2,3.1,4],[-4.7,3.1,3],[-4.2,3.2,4],[-3.7,3.2,4],[-3.2,3.2,3],[-2.7,3.3,4],[-2.2,3.2,3],[-1.7,3.3,0],[-1.2,3.1,2],[-0.7,3.1,1],[-5.3,2.5,4],[-4.8,2.5,4],[-4.3,2.5,4],[-3.8,2.6,3],[-3.3,2.6,4],[-2.8,2.6,4],[-2.3,2.6,3],[-1.8,2.6,2],[-1.3,2.5,4],[-0.8,2.6,1],[-0.3,2.5,2],[-4.9,1.9,4],[-4.4,1.9,3],[-3.9,1.9,4],[-3.4,2,3],[-2.9,2,4],[-2.4,2,2],[-1.9,2,4],[-1.4,1.9,3],[-0.9,1.9,3],[-0.4,1.9,1],[-5.3,1.3,3],[-4.8,1.3,2],[-4.3,1.3,3],[-3.8,1.3,4],[-3.3,1.4,2],[-2.8,1.3,4],[-2.3,1.3,3],[-1.8,1.3,3],[-1.3,1.3,4],[-0.8,1.3,2],[-4.7,0.6,3],[-4.1,0.5,4],[-3.5,0.6,3],[-2.9,0.7,4],[-2.3,0.6,3],[-1.7,0.7,2],[-1.1,0.6,3],[-0.5,0.7,2]];
var bFillLow=[[-3.4,-0.2,4],[-2.7,-0.2,3],[-2,-0.2,4],[-1.3,-0.2,3],[-3.7,-0.7,4],[-3,-0.8,3],[-2.4,-0.9,4],[-1.7,-0.8,2],[-1,-0.8,3],[-3.4,-2.1,1],[-2.7,-2.1,3],[-2.1,-2.1,3],[-1.5,-2.1,2],[-1,-2.2,2],[-4.3,-2.7,2],[-3.7,-2.7,1],[-3.1,-2.7,0],[-2.5,-2.8,2],[-2,-2.7,1],[-1.5,-2.8,3],[-1,-2.9,2],[-4.1,-3.3,3],[-3.5,-3.3,1],[-2.9,-3.4,1],[-2.4,-3.4,3],[-1.9,-3.4,2],[-1.4,-3.5,1],[-4.2,-3.9,2],[-3.5,-3.9,3],[-2.9,-3.9,1],[-2.3,-4,2],[-1.8,-4.1,1],[-1.2,-4.1,3],[-5.3,-4.5,3],[-4.7,-4.5,2],[-3.3,-4.6,1],[-2.7,-4.6,3],[-2.1,-4.6,2],[-1.5,-4.7,2],[-3.4,-5.2,3],[-2.8,-5.3,1],[-2.2,-5.3,1],[-3.8,-5.7,3],[-3.2,-5.7,1],[-2.7,-5.8,3],[-3.6,-6.3,4],[-3.1,-6.3,1],[-2.6,-6.5,3],[-4.4,-6.8,4],[-3.7,-6.9,3],[-3.1,-6.9,2],[-4.9,-7.2,4],[-4.3,-7.4,4],[-3.7,-7.4,3],[-5.4,-7.6,3],[-4.8,-7.8,4],[-5.8,-8.1,4],[-5.2,-8.2,4],[-7.3,-5.7,3],[-7.6,-6.2,4],[-6.3,-5.2,2],[-6.7,-5.7,3],[-8.4,-6.3,4]];
var bFillEast=[[4.8,1,1],[5.5,1.3,1],[6.2,1.3,3],[6.9,1.7,1],[7.4,1.9,3],[7.9,2.2,4],[8.4,2.4,3],[8.9,2.7,4],[6.4,0.7,4],[7,0.4,1],[7.6,0.5,4],[8.2,0.7,2],[8.8,0.8,3],[9.4,0.9,4],[10,1,4],[10.6,0.8,4],[11.2,0.7,3],[5.8,-0.2,1],[6.4,-0.1,2],[7,-0.2,1],[7.6,-0.2,3],[8.2,-0.1,4],[8.8,0.1,4],[9.4,0.1,3],[10,0.2,4],[10.6,0.2,4],[11.2,0.2,4],[5.9,-0.8,1],[6.5,-0.8,1],[7.1,-0.8,4],[7.7,-0.8,1],[8.3,-0.7,2],[8.9,-0.7,3],[9.5,-0.5,4],[6.5,-1.4,1],[7,-1.4,2],[7.7,-1.3,1],[8.3,-1.3,1],[8.9,-1.2,3],[2,-3.3,3],[3.1,-3.7,3],[3.6,-3.7,4],[4.1,-3.7,3],[3.5,-4.2,1],[4,-4.3,3],[4.5,-4.3,4],[5,-4.4,4],[5.6,-4.6,4],[6.1,-4.7,4],[3.7,-4.9,3],[4.2,-4.9,1],[4.7,-5.1,3],[3.9,-5.4,1],[4.4,-5.4,2],[4.9,-5.4,3],[4.3,-5.9,1],[4.8,-5.9,3],[5.3,-5.9,4],[4.7,-6.5,3]];

var cOut=[[-14.3,11.35,4],[-11.65,10.2,4],[-12.25,5.3,4],[-12.35,2.8,4],[-10.45,9.1,4],[-9.65,8.7,4],[-9.7,7.55,4],[-9.2,7.9,4],[-8.9,7.35,4],[-8.15,7.45,4],[-8.3,8.3,2],[-7.65,7.4,4],[-7.9,7.1,4],[-7.4,6.6,4],[-7.7,4.6,4],[-7.1,4.2,2],[-6.9,5.4,4],[-6.5,21.15,4],[-6,20.8,4],[-5.55,17,4],[-6.05,16.55,4],[-6.05,15.4,4],[-5.6,14.9,4],[-5.5,14.35,4],[-6.4,13.9,4],[-6.55,13.2,4],[-6.6,11.9,3],[-6.15,11.9,4],[-5.6,10.6,4],[-7.75,-0.2,4],[-6.55,-1.15,4],[-6.8,-2.4,3],[-3.35,17.8,3],[-1.7,18.85,4],[-1.6,18,4],[-1.55,16.05,4],[0.2,16.45,4],[-0.2,15.2,4],[0.7,14.6,4],[-2.75,15.7,4],[-3.6,15.45,4],[-4.8,15.6,4],[-4.55,15.2,4],[0.3,12.6,4],[0.8,10.85,4],[0.3,8.3,4],[0.3,9.5,4],[0.6,9.5,4],[1.05,9,4],[1.9,10.85,4],[2.1,9.4,4],[2.5,8.7,4],[2.4,13,3],[2.55,12.2,4],[2.8,15,4],[0.8,6.05,2],[1.7,6,4],[1.35,4.2,0],[1.05,3.1,0],[1.7,3.25,3],[1.7,2.4,2],[2.55,4.15,2],[8.1,30.25,4],[10.95,24.5,4],[12.6,17.8,4],[10.45,17.5,4],[6.7,17.2,3],[4.2,17.05,4],[11.85,15.5,3],[8.7,16.1,4],[8.75,15.6,4],[7.75,15.4,4],[8.5,14.75,4],[9.35,15.2,4],[9.45,14.25,4],[7.25,13.85,4],[10.25,14.45,4],[10.65,13.95,4],[10.95,13.5,4],[10.3,13.2,3],[2.65,11.85,4],[4.65,11,4],[5.1,10.9,4],[4.75,9.3,4],[5.3,9.2,3],[3.85,8.8,4],[3.35,7.8,4],[4.55,7.4,3],[11.75,11.35,3],[10.9,11.55,3],[11.2,8.05,3],[10.3,7.3,4],[13.75,6,4],[10.7,5.8,1],[12.9,2.65,1],[11.9,1.45,3],[10.6,2.45,4],[9.8,3.9,2],[9.8,3,2],[8.9,4.3,0],[9.7,5.9,0],[16.85,-1.9,4],[17.7,-1.55,4],[13.15,-2.15,3],[14.3,-4.5,4],[15.4,-4.4,3],[14.25,-7.6,4],[15,-8.7,1],[15,-8.2,4],[16.45,-8.1,4],[13.8,-8.7,4],[13.9,-9.3,4],[13,-8.6,4],[12.95,-9.7,4],[12.8,-10.5,4],[11.7,-11,4],[12.25,-8.5,4],[11.95,-9.6,4],[11.5,-9.1,4],[13.6,-5.95,4],[13.25,-6.6,3],[7.35,-12.65,4],[5.35,-12.15,4],[3.2,-17.35,4],[6.2,-9.45,4],[5.45,-9.2,4],[4.95,-9.8,4],[5.9,-7.75,4],[3.9,-9.3,4],[3.25,-10,4],[2.85,-9,4],[2.6,-7.95,4],[1.45,-10.2,4],[1.55,-7.85,4],[7.65,-9.3,2],[7.75,-8.5,2],[8.2,-9,4],[9.25,-10.3,4],[9.7,-9.9,4],[4.05,-5.85,2],[-13.5,-10.65,4],[-11.3,-21.25,4],[-11.1,-25.95,4],[-5.9,-16.45,4],[-9.6,-12.55,4],[-9.6,-13.3,4],[-8.65,-12.7,4],[-7.65,-14,4],[-6.9,-13.65,4],[-5.5,-12.95,4],[-7.85,-11.8,4],[-8.3,-10.65,4],[-6.25,-10.9,4],[-10.2,-8.65,4],[-9.8,-7.85,4],[-9.6,-6.45,4],[-8.4,-5.85,3],[0.35,-11.55,4],[0.5,-8.2,4],[1.3,-8.5,4],[1.1,-6.45,4],[-0.85,-8.85,4],[-1.95,-8.75,4],[-2.35,-9.1,4],[-2.7,-8.5,4],[-3.55,-8.6,4],[-4.55,-8.5,4],[-5.1,-9.2,4]];
var cLeft=[[-4.4,13.4,4],[-3.7,13.1,4],[-3,13.7,4],[-2.3,13.2,4],[-1.6,12.8,3],[-5,12.2,4],[-4.4,12.1,4],[-3.8,12,4],[-3.2,12.3,3],[-2.6,11.9,3],[-2,12,4],[-1.4,12.1,3],[-0.8,11.8,4],[-5.2,10.9,4],[-4.6,10.8,4],[-4,11,3],[-3.4,10.8,4],[-2.8,10.9,3],[-2.2,10.7,4],[-1.6,10.9,3],[-1,10.6,4],[-0.4,10.7,4],[-5.6,9.7,4],[-5,9.6,3],[-4.4,9.7,4],[-3.8,9.8,2],[-3.2,9.6,3],[-2.6,9.6,4],[-2,9.8,2],[-1.4,9.7,1],[-0.8,9.5,3],[-0.2,9.6,4],[-5.3,8.4,3],[-4.7,8.3,4],[-4.1,8.5,2],[-3.5,8.3,4],[-2.9,8.5,3],[-2.3,8.5,4],[-1.7,8.4,1],[-1.1,8.3,2],[-0.5,8.4,2],[-6.9,6.9,4],[-6.5,7,3],[-5.9,7.4,4],[-5.2,7.3,3],[-4.6,7.2,2],[-4,7,3],[-3.4,7.2,2],[-2.8,7.1,3],[-2.2,7.3,1],[-1.6,7.2,2],[-1,7,1],[-0.4,7.2,3],[-6.7,5.8,4],[-6.1,5.9,1],[-5.5,6,3],[-4.9,5.9,1],[-4.3,6,4],[-3.7,5.8,2],[-3.1,5.9,1],[-2.5,6,1],[-1.9,5.8,3],[-1.3,6,1],[-0.7,5.9,2],[-0.1,5.7,3],[-6.4,4.6,2],[-5.8,4.7,3],[-5.2,4.6,1],[-4.6,4.8,3],[-4,4.5,4],[-3.4,4.7,0],[-2.8,4.6,1],[-2.2,4.6,2],[-1.6,4.8,4],[-1,4.5,1],[-0.4,4.6,0],[0.2,4.4,3],[-5.6,3.5,4],[-5,3.3,2],[-4.4,3.5,1],[-3.8,3.2,3],[-3.2,3.4,1],[-2.6,3.3,0],[-2,3.5,3],[-1.4,3.3,4],[-0.8,3.4,1],[-0.2,3.2,0],[0.4,3.3,2],[-5.1,2.2,1],[-4.5,2.1,0],[-3.9,2.3,3],[-3.3,2,1],[-2.7,2.2,3],[-2.1,2,0],[-1.5,2.2,4],[-0.9,2.1,1],[-0.3,2.1,3],[0.3,2,2],[0.9,1.8,1],[-4.9,1,4],[-4.3,0.9,2],[-3.7,1,4],[-3.1,1,1],[-2.5,0.8,0],[-1.9,1,2],[-1.3,0.9,3],[-0.7,1,4],[-0.1,0.8,1],[0.5,0.9,2],[1.1,0.8,1],[-4.5,-0.3,3],[-3.9,-0.2,1],[-3.3,-0.1,2],[-2.7,-0.4,0],[-2.1,-0.1,3],[-1.5,-0.3,1],[-0.9,-0.2,0],[-0.3,-0.4,2],[0.3,-0.1,1],[0.9,-0.3,0],[1.5,-0.4,1],[-5.1,-1.4,4],[-4.5,-1.5,2],[-3.9,-1.3,3],[-3.3,-1.5,4],[-2.7,-1.6,1],[-2.1,-1.4,0],[-1.5,-1.5,2],[-0.9,-1.6,1],[-0.3,-1.4,0],[0.3,-1.6,3],[0.9,-1.5,1],[1.5,-1.6,0],[-5.3,-2.8,3],[-4.7,-2.9,4],[-4.1,-2.6,2],[-3.5,-2.8,3],[-2.9,-2.9,1],[-2.3,-2.7,2],[-1.7,-2.9,1],[-1.1,-2.7,3],[-0.5,-2.8,1],[0.1,-3,2],[0.7,-2.7,4],[1.3,-2.9,2],[-6.1,-4,4],[-5.5,-4.1,3],[-4.9,-4.1,4],[-4.3,-3.9,3],[-3.7,-4,1],[-3.1,-4.2,2],[-2.5,-3.9,1],[-1.9,-4,2],[-1.3,-4.2,1],[-0.7,-4,4],[-0.1,-4.1,3],[0.5,-4.2,4],[1.1,-4,3],[-6.9,-5.2,4],[-6.3,-5.3,4],[-5.7,-5.1,3],[-5.1,-5.2,4],[-4.5,-5.4,3],[-3.9,-5.2,4],[-3.3,-5.3,1],[-2.7,-5.4,1],[-2.1,-5.2,2],[-1.5,-5.4,0],[-0.9,-5.2,3],[-0.3,-5.4,4],[0.3,-5.2,4],[-7.1,-6.4,4],[-6.5,-6.6,4],[-5.9,-6.3,4],[-5.3,-6.5,3],[-4.7,-6.3,4],[-4.1,-6.6,3],[-3.5,-6.4,3],[-2.9,-6.5,4],[-2.3,-6.6,3],[-1.7,-6.4,4],[-1.1,-6.6,2],[-0.5,-6.3,4],[-8,-7.7,3],[-7.4,-8,3],[-6.8,-7.7,4],[-6.2,-7.8,4],[-5.6,-7.6,3],[-5,-7.9,4],[-4.4,-7.7,4],[-3.8,-7.7,4],[-3.2,-7.9,3],[-2.6,-7.5,4],[-8.1,-9.3,3],[-7.5,-9,4],[-6.9,-9.4,4],[-6.3,-8.9,3],[-5.7,-9.1,3],[-5.2,-8.7,3],[-7.3,-10,4],[-6.8,-10.2,4],[-6.4,-10,4],[-8.2,-8.4,3],[-7.8,-10.3,4],[-8.3,-6.8,3],[-8.1,-7.6,4],[-7.5,-6.9,4]];
var cRight=[[8,12.7,4],[8.7,12.5,3],[9.2,12.8,3],[9.7,12.3,4],[10.2,12.2,3],[7.5,11.9,3],[6.5,11.3,3],[7.1,11,2],[7.7,11.2,3],[8.3,11.3,2],[8.9,11.1,3],[9.5,11,2],[10,11.2,3],[6,10,1],[6.6,9.9,3],[7.2,10.1,4],[7.8,9.9,1],[8.4,10.2,3],[9,9.9,2],[9.6,9.8,1],[10.2,9.9,2],[10.6,9.5,3],[5.6,8.7,3],[6.2,8.8,2],[6.8,8.6,4],[7.4,8.8,3],[8,8.6,4],[8.6,8.7,3],[9.2,8.6,2],[9.8,8.8,3],[4.6,7.2,2],[5.2,7.5,2],[5.8,7.4,1],[6.4,7.6,3],[7,7.3,4],[7.6,7.5,2],[8.2,7.4,3],[8.8,7.5,4],[9.4,7.3,3],[3.6,6,4],[4.2,6.1,3],[4.8,6.3,2],[5.4,6,1],[6,6.2,4],[6.6,6,3],[7.2,6.3,2],[7.8,6,1],[8.4,6.2,4],[9,6,3],[9.5,5.5,3],[3.3,4.6,1],[3.9,4.9,3],[4.5,4.7,1],[5.1,5,3],[5.7,4.8,0],[6.3,4.6,4],[6.9,4.9,1],[7.5,4.7,3],[8.1,4.9,2],[8.7,4.6,4],[9.2,4.8,2],[2.8,3.5,2],[3.4,3.6,1],[4,3.3,1],[4.6,3.7,2],[5.2,3.4,0],[5.8,3.6,1],[6.4,3.3,2],[7,3.6,3],[7.6,3.4,2],[8.2,3.6,1],[2.5,2.3,1],[3.1,2.5,0],[3.7,2.2,1],[4.3,2.4,0],[4.9,2.3,2],[5.5,2.1,1],[6.1,2.4,0],[6.7,2.2,2],[7.3,2.3,1],[7.9,2.4,2],[8.5,2.1,1],[2.2,1,1],[2.8,1.1,2],[3.4,0.9,0],[4,1,1],[4.6,1.2,4],[5.2,0.9,0],[5.8,1,3],[6.4,0.8,1],[7,1.1,2],[7.6,0.9,1],[8.2,1,3],[8.8,1,1],[9.4,1.2,3],[10,1,4],[2,-0.3,0],[2.6,-0.2,1],[3.2,-0.5,0],[3.8,-0.3,2],[4.4,-0.1,0],[5,-0.4,3],[5.6,-0.2,0],[6.2,-0.4,2],[6.8,-0.2,1],[7.4,-0.3,3],[8,-0.5,4],[8.6,-0.2,4],[9.2,-0.4,4],[9.8,-0.2,3],[10.4,-0.3,4],[10.9,0,3],[2.5,-1.6,1],[3.1,-1.7,2],[3.7,-1.5,1],[4.3,-1.7,4],[4.9,-1.5,1],[5.5,-1.7,2],[6.1,-1.6,1],[6.7,-1.8,0],[7.3,-1.5,3],[7.9,-1.7,4],[8.5,-1.6,3],[9.1,-1.5,4],[9.7,-1.8,4],[10.3,-1.6,3],[10.9,-1.5,4],[11.5,-1.3,3],[1.9,-2.8,4],[2.5,-3,4],[3.1,-2.9,3],[3.7,-3.1,4],[4.3,-2.9,2],[4.9,-3,1],[5.5,-3.1,3],[6.1,-2.8,1],[6.7,-3,0],[7.3,-3,3],[7.9,-2.9,4],[8.5,-3.1,1],[9.1,-2.9,3],[9.7,-3,4],[10.3,-2.8,3],[10.9,-3.1,4],[11.5,-2.8,3],[12.1,-3,4],[2.1,-4.2,4],[2.7,-4.1,3],[3.3,-4.3,4],[3.9,-4,4],[4.5,-4.3,3],[5.1,-4.1,1],[5.7,-4.2,2],[6.3,-4,1],[6.9,-4.3,3],[7.5,-4.2,1],[8.1,-4,0],[8.7,-4.3,2],[9.3,-4.1,3],[9.9,-4.2,4],[10.5,-4,3],[11.1,-4.3,2],[11.7,-4.1,3],[12.3,-4.2,4],[12.8,-4.6,4],[1.6,-5.3,4],[2.2,-5.5,4],[2.8,-5.4,4],[3.4,-5.6,4],[5.3,-5.6,4],[5.9,-5.3,3],[6.5,-5.4,4],[7.1,-5.6,3],[7.7,-5.3,1],[8.3,-5.5,0],[8.9,-5.3,3],[9.5,-5.6,4],[10.1,-5.4,3],[10.7,-5.6,4],[11.3,-5.4,3],[11.9,-5.6,4],[12.5,-5.4,4],[13.1,-5.5,3],[6.7,-6.6,3],[7.3,-6.7,4],[7.9,-6.8,3],[8.5,-6.6,4],[9.1,-6.9,3],[9.7,-6.7,4],[10.3,-6.6,3],[10.9,-6.8,4],[11.5,-6.6,4],[12.1,-6.8,3],[12.7,-6.7,4],[8.3,-7.9,3],[8.9,-8.1,3],[9.5,-8,4],[10.1,-7.9,3],[10.7,-8.1,4],[11.3,-8,4],[11.9,-7.7,3],[8.6,-8.8,3],[9.2,-9,4],[9.7,-8.6,3],[10.3,-9,4],[10.8,-8.8,4]];
var cFillLeft=[[-4,12.7,4],[-3.3,12.9,4],[-2.6,12.6,4],[-1.9,12.6,3],[-4.7,11.5,4],[-4.1,11.5,4],[-3.5,11.4,4],[-2.9,11.5,3],[-2.3,11.4,3],[-1.7,11.5,4],[-1.1,11.3,4],[-4.9,10.2,4],[-4.3,10.3,3],[-3.7,10.4,4],[-3.1,10.2,3],[-2.5,10.3,3],[-1.9,10.2,2],[-1.3,10.2,3],[-0.7,10.1,3],[-5,9,4],[-4.4,9,3],[-3.8,9,3],[-3.2,9.1,4],[-2.6,9,2],[-2,9,3],[-1.4,9,2],[-0.8,8.9,2],[-0.2,8.9,3],[-5.5,7.9,4],[-4.9,7.8,3],[-4.3,7.8,3],[-3.7,7.8,2],[-3.1,7.8,3],[-2.5,7.9,2],[-1.9,7.8,2],[-1.3,7.7,3],[-0.7,7.8,2],[-5.9,6.6,4],[-5.2,6.6,3],[-4.6,6.6,4],[-4,6.5,2],[-3.4,6.5,3],[-2.8,6.5,1],[-2.2,6.6,3],[-1.6,6.5,2],[-1,6.5,3],[-0.4,6.5,2],[-6,5.3,2],[-5.5,5.3,4],[-4.9,5.2,3],[-4.3,5.3,1],[-3.7,5.2,3],[-3.1,5.2,2],[-2.5,5.3,1],[-1.9,5.2,3],[-1.3,5.2,1],[-0.7,5.2,3],[-5.5,4.1,3],[-4.9,4,1],[-4.3,4.1,3],[-3.7,4,1],[-3.1,4,2],[-2.5,4,1],[-1.9,4.1,2],[-1.3,4,1],[-0.7,4,3],[-5.3,2.8,3],[-4.7,2.8,2],[-4.1,2.8,1],[-3.5,2.8,2],[-2.9,2.7,1],[-2.3,2.8,3],[-1.7,2.7,1],[-1.1,2.7,2],[-0.5,2.7,1],[0.1,2.6,3],[-4.7,1.6,3],[-4.1,1.6,1],[-3.5,1.6,2],[-2.9,1.5,3],[-2.3,1.5,1],[-1.7,1.6,3],[-1.1,1.5,2],[-0.5,1.5,1],[0.1,1.5,2],[-4.2,0.4,3],[-3.4,0.4,2],[-2.8,0.3,1],[-2.2,0.4,3],[-1.6,0.3,2],[-1,0.3,1],[-0.4,0.4,3],[0.2,0.3,1],[0.8,0.3,2],[-4.8,-0.9,4],[-4.2,-0.9,3],[-3.6,-0.8,1],[-3,-0.9,2],[-2.4,-0.9,1],[-1.8,-0.8,3],[-1.2,-0.9,1],[-0.6,-0.9,2],[0,-0.8,1],[0.6,-0.9,3],[1.2,-1,1],[-4.9,-2.1,4],[-4.3,-2.1,3],[-3.7,-2,3],[-3.1,-2.2,2],[-2.5,-2.1,1],[-1.9,-2.2,2],[-1.3,-2.1,1],[-0.7,-2.2,2],[-0.1,-2.2,1],[0.5,-2.1,3],[1.1,-2.2,4],[-5.6,-3.4,4],[-5,-3.5,3],[-4.4,-3.3,4],[-3.8,-3.5,2],[-3.2,-3.5,3],[-2.6,-3.3,1],[-2,-3.5,1],[-1.4,-3.4,2],[-0.8,-3.4,3],[-0.2,-3.5,2],[0.4,-3.5,3],[-6.5,-4.6,4],[-5.9,-4.6,3],[-5.3,-4.7,4],[-4.7,-4.6,3],[-4.1,-4.6,2],[-3.5,-4.7,3],[-2.9,-4.7,2],[-2.3,-4.6,1],[-1.7,-4.7,2],[-1.1,-4.6,1],[-0.5,-4.7,4],[-6.6,-5.9,4],[-6,-5.8,3],[-5.4,-5.9,4],[-4.8,-5.8,4],[-4.2,-5.9,3],[-3.6,-5.8,2],[-3,-5.9,3],[-2.4,-6,1],[-1.8,-5.9,3],[-1.2,-5.9,2],[-0.6,-5.8,4],[-7.5,-7.1,4],[-6.9,-7,3],[-6.3,-7.1,4],[-5.7,-7,4],[-5.1,-7.1,3],[-4.5,-7,3],[-3.9,-7.2,4],[-3.3,-7.1,3],[-2.7,-7,4],[-2.1,-7.1,4],[-7.7,-8.6,4],[-7.1,-8.6,3],[-6.5,-8.5,4],[-5.9,-8.4,4],[-5.3,-8.3,3],[-4.7,-8.4,4],[-4.1,-8.3,3],[-3.5,-8.3,4],[-7.6,-9.6,3],[-7,-10,4]];
var cFillRight=[[8.4,12,3],[9,12,3],[9.6,11.7,3],[7,11.6,3],[7.6,11.7,2],[6.8,10.5,3],[7.4,10.6,2],[8,10.6,3],[8.6,10.6,2],[9.2,10.5,3],[9.8,10.5,2],[5.9,9.3,3],[6.5,9.3,2],[7.1,9.4,3],[7.7,9.3,2],[8.3,9.4,4],[8.9,9.3,1],[9.5,9.2,2],[10.1,9.2,3],[5.5,8,3],[6.1,8.1,2],[6.7,8,3],[7.3,8.1,4],[7.9,8,3],[8.5,8.1,2],[9.1,8,4],[9.7,8,3],[4.9,6.8,2],[5.5,6.8,1],[6.1,6.9,3],[6.7,6.8,2],[7.3,6.9,3],[7.9,6.8,4],[8.5,6.8,3],[9.1,6.8,3],[4.1,5.5,2],[4.7,5.5,1],[5.3,5.5,2],[5.9,5.5,1],[6.5,5.4,3],[7.1,5.5,2],[7.7,5.5,3],[8.3,5.5,1],[8.9,5.3,3],[3.6,4.2,2],[4.2,4.2,1],[4.8,4.1,0],[5.4,4.2,1],[6,4.1,2],[6.6,4.2,1],[7.2,4.1,3],[7.8,4.2,1],[8.4,4.2,2],[3,3,1],[3.6,2.9,2],[4.2,3,0],[4.8,3,1],[5.4,2.8,2],[6,2.9,1],[6.6,2.9,3],[7.2,2.9,1],[2.5,1.7,2],[3.1,1.7,1],[3.7,1.6,2],[4.3,1.7,1],[4.9,1.6,3],[5.5,1.5,1],[6.1,1.7,2],[6.7,1.6,1],[7.3,1.6,3],[7.9,1.7,1],[2.5,0.4,1],[3.1,0.3,2],[3.7,0.4,1],[4.3,0.5,2],[4.9,0.4,1],[5.5,0.3,2],[6.1,0.4,1],[6.7,0.4,3],[7.3,0.4,2],[7.9,0.3,4],[8.5,0.4,3],[9.1,0.4,1],[9.7,0.4,4],[2.3,-1,2],[2.9,-1,1],[3.5,-1,3],[4.1,-0.9,1],[4.7,-1,2],[5.3,-1,1],[5.9,-1,3],[6.5,-1.1,1],[7.1,-0.9,2],[7.7,-1,4],[8.3,-0.9,4],[8.9,-1,3],[9.5,-1,4],[10.1,-1,4],[10.7,-0.8,3],[11.3,-0.6,4],[2.8,-2.3,3],[3.4,-2.3,1],[4,-2.2,3],[4.6,-2.3,1],[5.2,-2.2,2],[5.8,-2.4,1],[6.4,-2.3,2],[7,-2.3,1],[7.6,-2.3,3],[8.2,-2.3,1],[8.8,-2.3,3],[9.4,-2.2,4],[10,-2.4,3],[10.6,-2.3,3],[11.2,-2.2,4],[11.8,-2,3],[2.4,-3.6,4],[3,-3.6,3],[3.6,-3.7,4],[4.2,-3.5,3],[4.8,-3.7,2],[5.4,-3.6,1],[6,-3.5,3],[6.6,-3.7,1],[7.2,-3.6,2],[7.8,-3.5,1],[8.4,-3.7,3],[9,-3.5,2],[9.6,-3.6,3],[10.2,-3.5,4],[10.8,-3.7,3],[11.4,-3.5,2],[12,-3.6,4],[5.7,-4.8,3],[6.3,-4.8,2],[6.9,-4.9,1],[7.5,-4.7,3],[8.1,-4.9,1],[8.7,-4.8,3],[9.3,-4.9,2],[9.9,-4.8,3],[10.5,-4.9,2],[11.1,-4.8,4],[11.7,-4.9,3],[12.3,-4.8,3],[6.9,-6,4],[7.5,-6.1,3],[8.1,-6,4],[8.7,-6.1,3],[9.3,-6,3],[9.9,-6.1,4],[10.5,-6,3],[11.1,-6.1,3],[11.7,-6,4],[12.3,-6.1,4],[12.9,-6.1,3],[8.6,-7.3,3],[9.2,-7.4,4],[9.8,-7.3,3],[10.4,-7.4,3],[11,-7.3,4],[11.6,-7.2,3],[12.2,-7.3,4]];

var xTicksAB=[-15,-10,-5,0,5,10,15,20];
var xTicksC=[-15,-10,-5,0,5,10,15];
var yTicksA=[-15,-10,-5,0,5,10,15];
var yTicksB=[-10,-5,0,5,10,15];
var yTicksC=[-20,-10,0,10,20,30];
var classTicks=[0,0.5,1,1.5,2,2.5,3,3.5,4];
var classStops=[0,1,2,3,4];
var classColours=["#6ef6fa","#5fb0f0","#7b80f0","#a850ee","#ee28f2"];

var panels=[
 {id:"a",pts:[aOut,aNW,aN,aE,aSW,aS,aFillNW,aFillN,aFillE,aFillSW,aFillS],xd:[-18.3,21.7],yd:[-16.35,16.4],xt:xTicksAB,yt:yTicksA,box:[59.5,28,471.5,415.5],p:"1",cap:"(a) Original input",capx:315,capy:522,capw:222},
 {id:"b",pts:[bOut,bNeck,bMass,bWest,bSouth,bEast,bSE,bFillTop,bFillLow,bFillEast],xd:[-17.3,20.06],yd:[-14.73,19.9],xt:xTicksAB,yt:yTicksB,box:[725,28,471.5,415.5],p:"1",cap:["(b) ","p"," = 1 at epoch 200"],capx:980,capy:522,capw:284},
 {id:"c",pts:[cOut,cLeft,cRight,cFillLeft,cFillRight],xd:[-15.9,19.36],yd:[-28.9,33],xt:xTicksC,yt:yTicksC,box:[361.5,602,472,416],p:"2.5",cap:["(c) ","p"," = 2.5 at epoch 200"],capx:617.5,capy:1098,capw:301}
];

var colour=d3.scaleLinear().domain(classStops).range(classColours);

var svg=d3.select("#chart").append("svg").attr("width",1294).attr("height",1106);

var defs=svg.append("defs");
var grad=defs.append("linearGradient").attr("id","cbar").attr("x1",0).attr("y1",1).attr("x2",0).attr("y2",0);
grad.selectAll("stop").data(classStops).enter().append("stop")
  .attr("offset",function(d){return d/4})
  .attr("stop-color",function(d){return colour(d)});

panels.forEach(drawPanel);

function drawPanel(p){
  var x0=p.box[0],y0=p.box[1],w=p.box[2],h=p.box[3];
  var g=svg.append("g").style("filter","blur(0.55px)");

  var x=d3.scaleLinear().domain(p.xd).range([x0,x0+w]);
  var y=d3.scaleLinear().domain(p.yd).range([y0+h,y0]);

  var title=g.append("text").attr("x",x0+w/2).attr("y",y0-7).attr("text-anchor","middle").style("font-size","13.6px");
  title.append("tspan").text("Isomap Visualization (Actor) when ");
  title.append("tspan").style("font-style","italic").text("p");
  title.append("tspan").text(" = "+p.p);

  var points=d3.merge(p.pts);
  g.append("g").selectAll("circle").data(points).enter().append("circle")
    .attr("cx",function(d){return x(d[0])})
    .attr("cy",function(d){return y(d[1])})
    .attr("r",3.9)
    .attr("fill",function(d){return colour(d[2])})
    .attr("stroke","#1c1028")
    .attr("stroke-opacity",0.85)
    .attr("stroke-width",1.35);

  g.append("rect").attr("x",x0).attr("y",y0).attr("width",w).attr("height",h)
    .attr("fill","none").attr("stroke","#555").attr("stroke-width",1.2);

  var xAxis=g.append("g").attr("class","axis").attr("transform","translate(0,"+(y0+h)+")")
    .call(d3.axisBottom(x).tickValues(p.xt).tickSize(3.5).tickPadding(5));
  var yAxis=g.append("g").attr("class","axis").attr("transform","translate("+x0+",0)")
    .call(d3.axisLeft(y).tickValues(p.yt).tickSize(3.5).tickPadding(4.5));
  [xAxis,yAxis].forEach(function(a){
    a.select(".domain").remove();
    a.selectAll("text").style("font-family","\"DejaVu Sans\"").style("font-size","10.8px").attr("fill","#4d4d4d");
  });

  g.append("text").attr("x",x0+w/2).attr("y",y0+h+34.5).attr("text-anchor","middle").style("font-size","10.8px").text("X");
  g.append("text").attr("transform","translate("+(x0-41)+","+(y0+h/2)+") rotate(-90)").attr("text-anchor","middle").style("font-size","10.8px").text("Y");

  // colour bar
  var bx=x0+w+30,bw=21;
  var cb=d3.scaleLinear().domain([0,4]).range([y0+h,y0]);
  g.append("rect").attr("x",bx).attr("y",y0).attr("width",bw).attr("height",h)
    .attr("fill","url(#cbar)").attr("stroke","#555").attr("stroke-width",1);
  var cbAxis=g.append("g").attr("class","axis").attr("transform","translate("+(bx+bw)+",0)")
    .call(d3.axisRight(cb).tickValues(classTicks).tickSize(3.5).tickPadding(4).tickFormat(d3.format(".1f")));
  cbAxis.select(".domain").remove();
  cbAxis.selectAll("text").style("font-family","\"DejaVu Sans\"").style("font-size","10.8px").attr("fill","#4d4d4d");
  g.append("text").attr("transform","translate("+(bx+bw+39)+","+(y0+h/2)+") rotate(-90)").attr("text-anchor","middle").style("font-size","10.8px").text("Class");

  var cap=svg.append("text").attr("class","caption").attr("x",p.capx).attr("y",p.capy)
    .attr("text-anchor","middle").style("font-size","27px").attr("textLength",p.capw).attr("lengthAdjust","spacingAndGlyphs");
  if(typeof p.cap=="string"){
    cap.text(p.cap);
  }else{
    cap.append("tspan").text(p.cap[0]);
    cap.append("tspan").style("font-style","italic").text(p.cap[1]);
    cap.append("tspan").text(p.cap[2]);
  }
}
</script>
</body>
</html>
